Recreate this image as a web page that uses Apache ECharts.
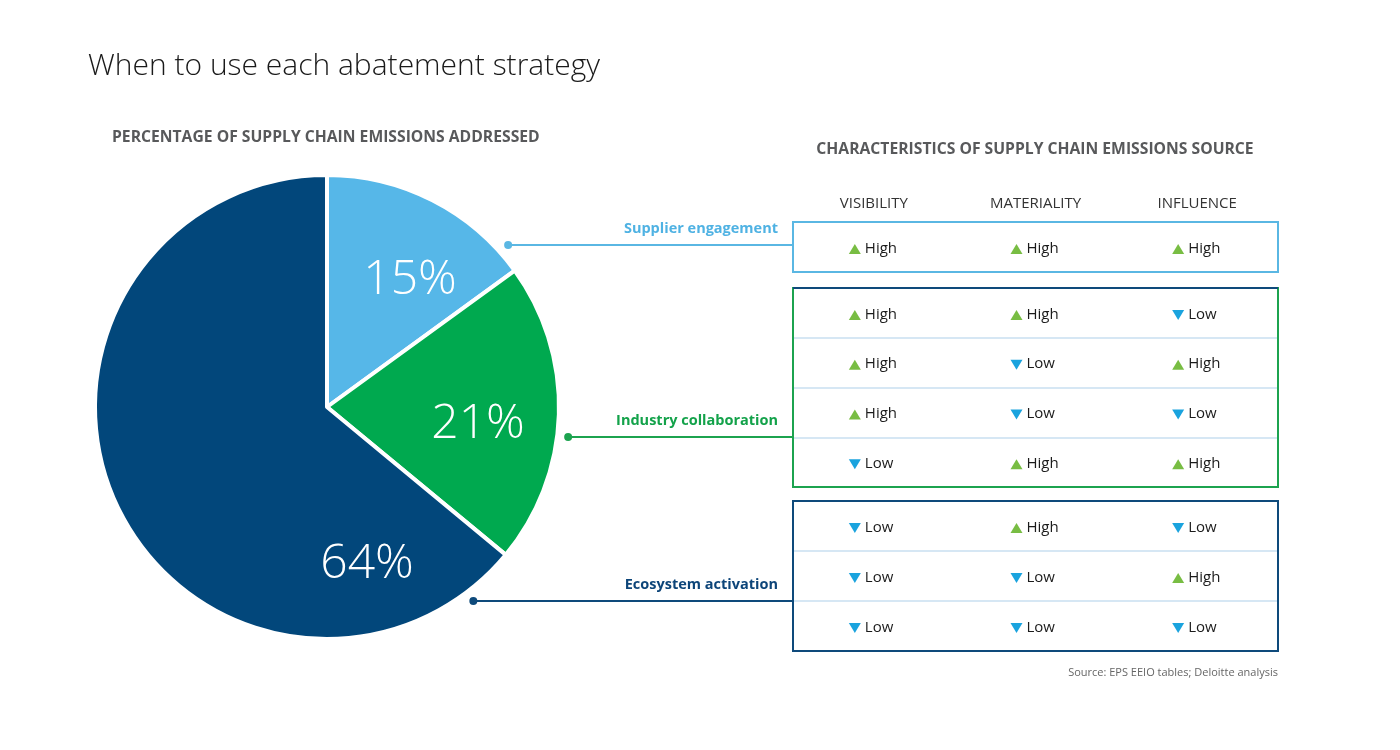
<!DOCTYPE html>
<html>
<head>
<meta charset="utf-8">
<script src="https://cdn.jsdelivr.net/npm/echarts@6/dist/echarts.min.js"></script>
<style>html,body{margin:0;padding:0;background:#fff;}#c{width:1400px;height:750px;}</style>
</head>
<body>
<div id="c"></div>
<script>
// ---- data ----
const strategies = ['Supplier engagement', 'Industry collaboration', 'Ecosystem activation'];
const shares = [15, 21, 64];
const characteristics = ['VISIBILITY', 'MATERIALITY', 'INFLUENCE'];
const supplierRows = [['High', 'High', 'High']];
const industryRows = [
  ['High', 'High', 'Low'],
  ['High', 'Low', 'High'],
  ['High', 'Low', 'Low'],
  ['Low', 'High', 'High']
];
const ecosystemRows = [
  ['Low', 'High', 'Low'],
  ['Low', 'Low', 'High'],
  ['Low', 'Low', 'Low']
];
const groupRows = [supplierRows, industryRows, ecosystemRows];

// ---- styles / layout ----
const FONT = "'Open Sans', 'Noto Sans', sans-serif";
const sliceColors = ['#56b7e8', '#00a94f', '#02477b'];
const boxColors = ['#5ab7e3', '#1ca34f', '#0e4a7b'];
const labelColors = ['#4fb2e3', '#13a24a', '#0d4579'];
const upColor = '#78bd43', downColor = '#1aa3de';
const pieCenter = [327, 407], pieR = 232;
const tableLeft = 793, tableWidth = 485;
const boxes = [ {top: 222, height: 50}, {top: 288, height: 199}, {top: 501, height: 150} ];
const leaderY = [245, 437, 601];
const dotR = 243;
const labelOffsets = [[83, -127], [151, 17], [40, 157]];

const chart = echarts.init(document.getElementById('c'));

const grids = [], xAxes = [], yAxes = [], series = [];
groupRows.forEach(function (rows, g) {
  grids.push({ left: tableLeft, top: boxes[g].top, width: tableWidth, height: boxes[g].height, show: false });
  xAxes.push({
    type: 'category', gridIndex: g, data: characteristics, position: 'top',
    axisLine: { show: false }, axisTick: { show: false }, splitLine: { show: false },
    axisLabel: { show: g === 0, margin: 11, fontFamily: FONT, fontSize: 15, color: '#333' }
  });
  yAxes.push({
    type: 'category', gridIndex: g, inverse: true,
    data: rows.map(function (r, i) { return 'r' + i; }),
    axisLine: { show: false }, axisTick: { show: false }, axisLabel: { show: false },
    splitLine: { show: true, interval: 0, lineStyle: { color: '#d6e7f4', width: 2 } }
  });
  const data = [];
  rows.forEach(function (r, ri) { r.forEach(function (v, ci) { data.push([ci, ri, v]); }); });
  series.push({
    type: 'custom', xAxisIndex: g, yAxisIndex: g, silent: true, z: 5,
    data: data,
    encode: { x: 0, y: 1 },
    renderItem: function (params, api) {
      const p = api.coord([api.value(0), api.value(1)]);
      const v = data[params.dataIndex][2];
      const cy = p[1] + 1.5;
      const tx = p[0] - 19, ty = cy + 0.5;
      const pts = v === 'High'
        ? [[tx - 6, ty + 5], [tx + 6, ty + 5], [tx, ty - 5]]
        : [[tx - 6, ty - 5], [tx + 6, ty - 5], [tx, ty + 5]];
      return {
        type: 'group',
        children: [
          { type: 'polygon', shape: { points: pts }, style: { fill: v === 'High' ? upColor : downColor } },
          { type: 'text', x: p[0] - 9, y: cy,
            style: { text: v, fill: '#1b1b1b', font: '15px ' + FONT, textAlign: 'left', textVerticalAlign: 'middle' } }
        ]
      };
    }
  });
});

series.push({
  type: 'pie',
  center: pieCenter,
  radius: pieR,
  startAngle: 90,
  clockwise: true,
  silent: true,
  z: 2,
  itemStyle: { borderColor: '#fff', borderWidth: 4 },
  data: shares.map(function (v, i) { return { name: strategies[i], value: v, itemStyle: { color: sliceColors[i] } }; }),
  label: {
    show: true, position: 'inside', formatter: '{c}%',
    fontFamily: FONT, fontWeight: 300, fontSize: 48, color: '#fff'
  },
  labelLine: { show: false },
  labelLayout: function (p) {
    const o = labelOffsets[p.dataIndex];
    return { x: pieCenter[0] + o[0], y: pieCenter[1] + o[1], align: 'center', verticalAlign: 'middle' };
  },
  emphasis: { disabled: true }
});

// graphics: boxes, leader lines, strategy labels
const graphics = [];
boxes.forEach(function (b, g) {
  graphics.push({
    type: 'rect', z: 100, silent: true,
    shape: { x: tableLeft, y: b.top, width: tableWidth, height: b.height },
    style: { fill: 'none', stroke: boxColors[g], lineWidth: 2 }
  });
  const ly = leaderY[g];
  const dy = ly - pieCenter[1];
  const dx = pieCenter[0] + Math.sqrt(dotR * dotR - dy * dy);
  graphics.push({
    type: 'line', z: 100, silent: true,
    shape: { x1: dx, y1: ly, x2: tableLeft, y2: ly },
    style: { stroke: boxColors[g], lineWidth: 2 }
  });
  graphics.push({
    type: 'circle', z: 101, silent: true,
    shape: { cx: dx, cy: ly, r: 4 },
    style: { fill: boxColors[g] }
  });
  graphics.push({
    type: 'text', z: 101, silent: true,
    x: tableLeft - 15, y: ly - 16,
    style: { text: strategies[g], fill: labelColors[g], font: 'bold 14.5px ' + FONT, textAlign: 'right', textVerticalAlign: 'middle' }
  });
});
graphics.push({
  type: 'line', z: 102, silent: true,
  shape: { x1: tableLeft, y1: boxes[1].top, x2: tableLeft + tableWidth, y2: boxes[1].top },
  style: { stroke: boxColors[2], lineWidth: 2 }
});

chart.setOption({
  backgroundColor: '#fff',
  animation: false,
  title: [
    { text: 'When to use each abatement strategy', left: 88, top: 51, padding: 0,
      textStyle: { fontFamily: FONT, fontWeight: 300, fontSize: 30, color: '#1a1a1a' } },
    { text: 'PERCENTAGE OF SUPPLY CHAIN EMISSIONS ADDRESSED', left: 112, top: 130, padding: 0,
      textStyle: { fontFamily: FONT, fontWeight: 'bold', fontSize: 15.7, color: '#58595b' } },
    { text: 'CHARACTERISTICS OF SUPPLY CHAIN EMISSIONS SOURCE', left: 1035, top: 142, padding: 0, textAlign: 'center',
      textStyle: { fontFamily: FONT, fontWeight: 'bold', fontSize: 15.7, color: '#58595b' } },
    { text: 'Source: EPS EEIO tables; Deloitte analysis', left: 1278, top: 667, padding: 0, textAlign: 'right',
      textStyle: { fontFamily: FONT, fontWeight: 'normal', fontSize: 11, color: '#666' } }
  ],
  grid: grids,
  xAxis: xAxes,
  yAxis: yAxes,
  series: series,
  graphic: graphics
});
</script>
</body>
</html>
